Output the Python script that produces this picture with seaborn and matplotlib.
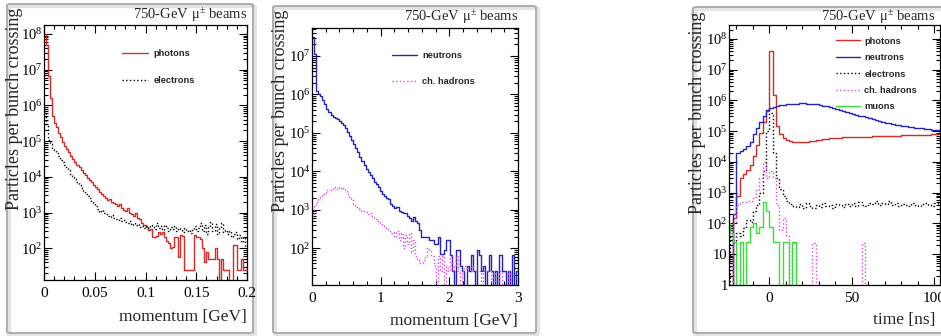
import numpy as np
import pandas as pd
import seaborn as sns
import matplotlib
matplotlib.use("Agg")
import matplotlib.pyplot as plt
from matplotlib.ticker import MultipleLocator, LogLocator, FuncFormatter, NullFormatter, FixedLocator
from matplotlib.patches import FancyBboxPatch
from matplotlib.font_manager import FontProperties

# ---------------- data ----------------
mom_edges_gamma_e = np.linspace(0.0, 0.2, 101)      # 0.002 GeV bins
mom_edges_hadrons = np.linspace(0.0, 3.0, 101)      # 0.03 GeV bins
time_edges = np.arange(-26, 105, 2)                  # 2 ns bins

photons_mom = [
    1.0e8, 5.0e7, 6.5e6, 1.6e6, 5.0e5, 3.2e5, 2.4e5, 1.7e5, 1.3e5, 9.5e4,
    7.5e4, 6.0e4, 4.8e4, 3.9e4, 3.1e4, 2.6e4, 2.2e4, 1.85e4, 1.55e4, 1.3e4,
    1.1e4, 9.5e3, 8.2e3, 7.0e3, 6.0e3, 5.2e3, 4.5e3, 3.8e3, 3.3e3, 2.9e3,
    2.5e3, 2.3e3, 2.4e3, 2.0e3, 1.85e3, 1.7e3, 1.55e3, 1.7e3, 1.3e3, 1.2e3,
    1.1e3, 1.35e3, 950, 900, 800, 1.0e3, 700, 650, 520, 450,
    400, 320, 350, 200, 200, 225, 280, 250, 280, 200,
    160, 140, 100, 110, 200, 200, 56, 240, 225, 25,
    25, 25, 25, 25, 240, 200, 200, 180, 100, 40,
    80, 50, 50, 50, 100, 50, 0, 50, 25, 25,
    25, 0, 0, 125, 125, 25, 25, 50, 25, 25]

electrons_mom = [
    7.0e5, 3.0e5, 1.1e5, 8.5e4, 6.5e4, 5.5e4, 4.5e4, 3.7e4, 3.0e4, 2.6e4,
    2.2e4, 1.8e4, 1.5e4, 1.2e4, 1.0e4, 8.5e3, 7.0e3, 5.8e3, 4.8e3, 4.0e3,
    3.4e3, 2.9e3, 2.5e3, 2.1e3, 1.8e3, 1.5e3, 1.25e3, 1.05e3, 1.2e3, 950,
    880, 820, 760, 850, 700, 660, 620, 700, 580, 600,
    540, 500, 560, 460, 500, 440, 470, 400, 430, 380,
    420, 380, 450, 400, 350, 500, 380, 420, 330, 450,
    380, 310, 400, 350, 420, 300, 380, 330, 280, 360,
    300, 330, 270, 320, 420, 300, 380, 520, 300, 450,
    250, 400, 550, 300, 480, 250, 380, 500, 280, 330,
    250, 300, 200, 250, 280, 180, 230, 150, 200, 110]

neutrons_mom = [
    3.2e7, 1.1e7, 1.25e6, 1.0e6, 9.0e5, 7.0e5, 5.6e5, 4.2e5, 3.5e5, 3.0e5,
    2.6e5, 2.4e5, 2.25e5, 2.0e5, 1.8e5, 1.6e5, 1.3e5, 1.07e5, 8.5e4, 6.6e4,
    5.2e4, 4.0e4, 3.2e4, 2.4e4, 1.8e4, 1.5e4, 1.12e4, 9.5e3, 8.0e3, 6.6e3,
    5.2e3, 4.8e3, 3.8e3, 3.0e3, 2.6e3, 2.3e3, 2.0e3, 1.9e3, 1.4e3, 1.26e3,
    1.12e3, 1.2e3, 950, 890, 830, 800, 700, 600, 520, 640,
    500, 450, 300, 200, 200, 200, 200, 160, 160, 130,
    130, 200, 72, 72, 90, 160, 160, 66, 25, 0,
    90, 90, 35, 25, 0, 35, 25, 66, 25, 0,
    90, 66, 25, 35, 0, 25, 66, 25, 0, 25,
    0, 66, 25, 25, 0, 25, 0, 66, 0, 25]

chhadrons_mom = [
    700, 1.26e3, 1.6e3, 1.9e3, 2.2e3, 2.5e3, 2.8e3, 3.2e3, 3.3e3, 3.5e3,
    3.8e3, 3.7e3, 3.5e3, 4.0e3, 3.5e3, 3.7e3, 3.2e3, 2.5e3, 2.0e3, 1.8e3,
    1.4e3, 1.26e3, 1.12e3, 1.05e3, 930, 890, 850, 760, 800, 660,
    600, 560, 500, 450, 400, 355, 316, 280, 250, 265,
    200, 280, 160, 250, 100, 225, 125, 250, 80, 160,
    63, 50, 40, 40, 50, 63, 100, 90, 63, 35,
    0, 63, 25, 63, 0, 35, 25, 63, 25, 35,
    63, 25, 0, 25, 35, 25, 25, 35, 25, 25,
    25, 25, 0, 25, 25, 25, 25, 0, 25, 0,
    0, 25, 0, 0, 0, 25, 0, 0, 0, 0]

photons_t = [
    0, 0, 150, 800, 3.0e3, 4.0e3, 5.5e3, 8.0e3, 1.6e4, 3.5e4, 9.0e4, 2.0e5, 4.5e5,
    4.0e7, 1.5e6, 1.5e5, 8.0e4, 6.0e4, 5.2e4, 4.8e4, 4.5e4, 4.4e4, 4.4e4,
    4.5e4, 4.6e4, 4.7e4, 4.9e4, 5.1e4, 5.3e4, 5.5e4, 5.7e4, 5.9e4, 6.0e4,
    6.1e4, 6.2e4, 6.3e4, 6.4e4, 6.4e4, 6.5e4, 6.5e4, 6.6e4, 6.6e4, 6.7e4,
    6.7e4, 6.8e4, 6.8e4, 6.9e4, 6.9e4, 7.0e4, 7.0e4, 7.1e4, 7.2e4, 7.2e4,
    7.3e4, 7.4e4, 7.4e4, 7.5e4, 7.5e4, 7.6e4, 7.6e4, 7.7e4, 7.7e4, 7.8e4,
    7.8e4, 7.8e4]

neutrons_t = [
    0, 0, 200, 2.0e4, 2.2e4, 2.6e4, 3.2e4, 4.5e4, 8.0e4, 1.3e5, 2.0e5, 3.2e5, 5.0e5,
    5.5e5, 6.0e5, 6.8e5, 7.0e5, 7.2e5, 7.4e5, 7.6e5, 7.8e5, 7.9e5, 8.0e5,
    8.0e5, 7.9e5, 7.8e5, 7.6e5, 7.4e5, 7.1e5, 6.8e5, 6.5e5, 6.1e5, 5.7e5,
    5.3e5, 5.0e5, 4.6e5, 4.3e5, 4.0e5, 3.7e5, 3.4e5, 3.2e5, 3.0e5, 2.8e5,
    2.6e5, 2.45e5, 2.3e5, 2.15e5, 2.0e5, 1.9e5, 1.8e5, 1.72e5, 1.64e5, 1.57e5,
    1.5e5, 1.45e5, 1.4e5, 1.35e5, 1.3e5, 1.26e5, 1.22e5, 1.18e5, 1.15e5, 1.12e5,
    1.09e5, 1.06e5]

electrons_t = [
    0, 40, 25, 50, 40, 70, 130, 110, 250, 400, 1.0e3, 5.0e3, 1.0e5,
    4.0e5, 2.0e4, 3.0e3, 1.3e3, 800, 550, 420, 380, 350, 420,
    330, 460, 380, 320, 410, 350, 470, 360, 400, 330,
    440, 390, 350, 420, 380, 450, 360, 500, 410, 380,
    470, 420, 550, 390, 480, 430, 520, 400, 460, 380,
    440, 410, 370, 450, 400, 360, 430, 480, 400, 370,
    450, 420]

chhadrons_t = [
    0, 0, 100, 400, 500, 500, 550, 550, 700, 1.2e3, 3.0e3, 1.0e4, 3.0e3,
    5.0e3, 3.0e3, 400, 60, 150, 40, 0, 23, 0, 0,
    0, 0, 0, 23, 0, 0, 0, 0, 0, 0,
    0, 0, 0, 0, 0, 0, 0, 0, 23, 0,
    0, 0, 0, 0, 0, 0, 0, 0, 0, 0,
    0, 0, 0, 0, 0, 0, 0, 0, 0, 0,
    0, 0]

muons_t = [
    100, 50, 25, 0, 25, 0, 25, 75, 100, 50, 75, 500, 250,
    75, 25, 25, 0, 25, 25, 0, 25, 0, 0,
    0, 0, 0, 0, 0, 0, 0, 0, 0, 0,
    0, 0, 0, 0, 0, 0, 0, 0, 0, 0,
    0, 0, 0, 0, 0, 0, 0, 0, 0, 0,
    0, 0, 0, 0, 0, 0, 0, 0, 0, 0,
    0, 0]

ydecades_p1 = [1e2, 1e3, 1e4, 1e5, 1e6, 1e7, 1e8]
ydecades_p2 = [1e2, 1e3, 1e4, 1e5, 1e6, 1e7]
ydecades_p3 = [1, 10, 1e2, 1e3, 1e4, 1e5, 1e6, 1e7, 1e8]

title_text = "750-GeV μ$^{\\pm}$ beams"
ylabel_text = "Particles per bunch crossing"

# ---------------- style ----------------
sns.set_theme(style="ticks")
plt.rcParams["font.family"] = ["Liberation Serif", "DejaVu Serif"]
plt.rcParams["mathtext.fontset"] = "custom"
plt.rcParams["mathtext.rm"] = "Liberation Serif"
plt.rcParams["mathtext.it"] = "Liberation Serif:italic"
plt.rcParams["mathtext.default"] = "regular"

RED, BLUE, MAG, GRN = "#d42a2a", "#2626b4", "#dd44dd", "#3cdc3c"

W, H = 941, 336
fig = plt.figure(figsize=(W / 100, H / 100), dpi=100)
fig.patch.set_facecolor("white")


def frame(x0, x1, y0, y1):
    for off, col, lw in [(2.0, "#e4e4e4", 3.0), (0, "#a8a8a8", 1.3)]:
        p = FancyBboxPatch(((x0 + off) / W, 1 - (y1 + off) / H), (x1 - x0) / W, (y1 - y0) / H,
                           boxstyle="round,pad=0,rounding_size=0.004", transform=fig.transFigure,
                           ec=col, fc="none", lw=lw, zorder=-5)
        fig.add_artist(p)


frame(7, 253, 4, 333)
frame(273, 536, 6, 333)
frame(693, 948, 7, 333)


def px_axes(l, r, t, b):
    return fig.add_axes([l / W, 1 - b / H, (r - l) / W, (b - t) / H])


def hist(ax, edges, vals, color, ls="-", label=None):
    edges = np.asarray(edges, float)
    centers = 0.5 * (edges[:-1] + edges[1:])
    df = pd.DataFrame({"x": centers, "w": np.asarray(vals, float)})
    sns.histplot(data=df, x="x", weights="w", bins=list(edges), element="step", fill=False,
                 color=color, linestyle=ls, linewidth=1.0, ax=ax, label=label)


def yfmt(v, p):
    e = int(round(np.log10(v)))
    if e == 0:
        return "1"
    if e == 1:
        return "10"
    return f"$10^{{{e}}}$"


def style_axes(ax, xmaj, xmin, xlim, ylim, xfmt, ymajor):
    ax.set_yscale("log")
    ax.set_xlim(*xlim)
    ax.set_ylim(*ylim)
    ax.xaxis.set_major_locator(MultipleLocator(xmaj))
    ax.xaxis.set_minor_locator(MultipleLocator(xmin))
    ax.xaxis.set_major_formatter(FuncFormatter(xfmt))
    ax.yaxis.set_major_locator(FixedLocator(ymajor))
    ax.yaxis.set_major_formatter(FuncFormatter(yfmt))
    ax.yaxis.set_minor_locator(LogLocator(base=10, subs=np.arange(2, 10), numticks=20))
    ax.yaxis.set_minor_formatter(NullFormatter())
    ax.tick_params(which="both", direction="in", top=True, right=True, bottom=True, left=True,
                   colors="black", width=0.8)
    ax.tick_params(which="major", length=6)
    ax.tick_params(which="minor", length=3)
    ax.tick_params(axis="x", labelsize=11, pad=5)
    ax.tick_params(axis="y", labelsize=10.5, pad=1)
    for s in ax.spines.values():
        s.set_color("black")
        s.set_linewidth(0.9)
    ax.set_ylabel("")
    ax.set_facecolor("white")


leg_font = FontProperties(family="Liberation Sans", weight="bold", size=6.7)

# ---------------- panel 1 ----------------
ax1 = px_axes(44, 247, 25, 280)
hist(ax1, mom_edges_gamma_e, photons_mom, RED, "-", "photons")
hist(ax1, mom_edges_gamma_e, electrons_mom, "black", ":", "electrons")
style_axes(ax1, 0.05, 0.01, (0, 0.2), (10 ** 1.11, 10 ** 8.25), lambda v, p: f"{v:g}", ydecades_p1)
ax1.set_xlabel("momentum [GeV]", fontsize=12.5, loc="right")
ax1.xaxis.set_label_coords(1.0, -0.112)
ax1.xaxis.label.set_va("top")
ax1.set_ylabel(ylabel_text, fontsize=13, loc="top")
ax1.yaxis.set_label_coords(-0.105, 1.07)
ax1.legend(loc="upper left", bbox_to_anchor=(0.385, 0.905), frameon=False, prop=leg_font,
           handlelength=2.8, handletextpad=0.55, labelspacing=1.9, borderpad=0, borderaxespad=0)
fig.text(247 / W, 1 - 14.5 / H, title_text, ha="right", va="center", fontsize=10.5)

# ---------------- panel 2 ----------------
ax2 = px_axes(312, 518, 28, 285)
hist(ax2, mom_edges_hadrons, neutrons_mom, BLUE, "-", "neutrons")
hist(ax2, mom_edges_hadrons, chhadrons_mom, MAG, ":", "ch. hadrons")
style_axes(ax2, 1, 0.2, (0, 3), (10 ** 1.04, 10 ** 7.73), lambda v, p: f"{v:g}", ydecades_p2)
ax2.set_xlabel("momentum [GeV]", fontsize=12.5, loc="right")
ax2.xaxis.set_label_coords(1.0, -0.11)
ax2.xaxis.label.set_va("top")
ax2.set_ylabel(ylabel_text, fontsize=13, loc="top")
ax2.yaxis.set_label_coords(-0.112, 1.07)
ax2.legend(loc="upper left", bbox_to_anchor=(0.39, 0.91), frameon=False, prop=leg_font,
           handlelength=2.6, handletextpad=0.6, labelspacing=1.8, borderpad=0, borderaxespad=0)
fig.text(518 / W, 1 - 17 / H, title_text, ha="right", va="center", fontsize=10.5)

# ---------------- panel 3 ----------------
ax3 = px_axes(729, 940, 25, 285)
hist(ax3, time_edges, photons_t, RED, "-", "photons")
hist(ax3, time_edges, neutrons_t, BLUE, "-", "neutrons")
hist(ax3, time_edges, electrons_t, "black", ":", "electrons")
hist(ax3, time_edges, chhadrons_t, MAG, ":", "ch. hadrons")
hist(ax3, time_edges, muons_t, GRN, "-", "muons")
style_axes(ax3, 50, 10, (-24.5, 103.5), (1, 10 ** 8.45), lambda v, p: f"{v:g}", ydecades_p3)
ax3.set_xlabel("time [ns]", fontsize=12.5, loc="right")
ax3.xaxis.set_label_coords(0.976, -0.105)
ax3.xaxis.label.set_va("top")
ax3.set_ylabel(ylabel_text, fontsize=13, loc="top")
ax3.yaxis.set_label_coords(-0.108, 1.05)
ax3.legend(loc="upper left", bbox_to_anchor=(0.505, 0.955), frameon=False, prop=leg_font,
           handlelength=2.6, handletextpad=0.5, labelspacing=0.8, borderpad=0, borderaxespad=0)
fig.text(935 / W, 1 - 17 / H, title_text, ha="right", va="center", fontsize=10.5)

fig.savefig("out.png", dpi=100, facecolor="white")
